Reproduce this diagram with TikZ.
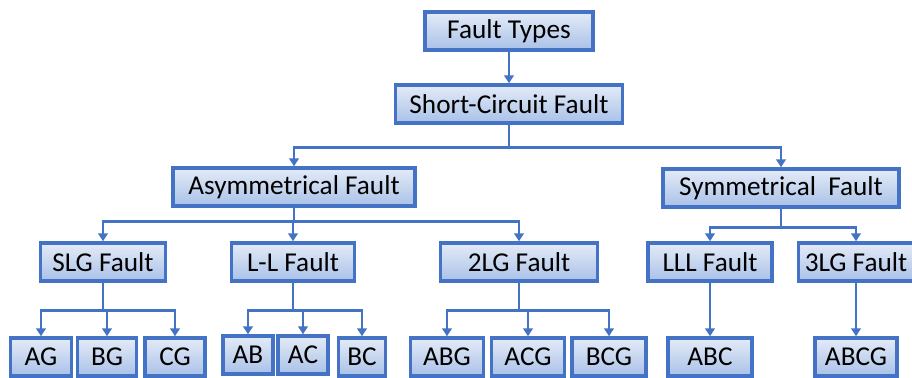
\documentclass[tikz,border=0pt]{standalone}
\usepackage{fontspec}
\setmainfont{Carlito}
\usetikzlibrary{arrows.meta,positioning}

\definecolor{faultline}{HTML}{4472C4}
\definecolor{faulttop}{HTML}{E4EBF7}
\definecolor{faultbot}{HTML}{A9C1E8}

\begin{document}
\begin{tikzpicture}[
  x=0.02cm, y=-0.02cm,
  font=\fontsize{15.5}{18}\selectfont,
  >={Triangle[width=5.5pt,length=4.5pt]},
  fault/.style={
    rectangle, draw=faultline, line width=2pt,
    top color=faulttop, bottom color=faultbot,
    minimum width=#1, minimum height=0.76cm,
    inner sep=1pt, text=black
  },
  arr/.style={->, line width=1.5pt, faultline},
]
\useasboundingbox (0,0) rectangle (912,378);

%% ── Top levels ──────────────────────────────────────────────────────
\node[fault=3.36cm] (ftypes) at (509,31)  {Fault Types};
\node[fault=4.54cm] (short)  at (509,104) {Short-Circuit Fault};
\draw[arr] (ftypes) -- (short);

%% ── Second level ────────────────────────────────────────────────────
\node[fault=4.84cm] (asym) at (294,187) {Asymmetrical Fault};
\node[fault=4.72cm] (sym)  at (781,188) {Symmetrical~ Fault};
\draw[arr] (short.south) -- ++(0,23) -| (asym.north);
\draw[arr] (short.south) -- ++(0,23) -| (sym.north);

%% ── Fault classes ───────────────────────────────────────────────────
\node[fault=2.5cm]  (slg) at (103,262) {SLG Fault};
\node[fault=2.46cm] (ll)  at (293,262) {L-L Fault};
\node[fault=3.14cm] (dlg) at (519,262) {2LG Fault};
\node[fault=2.48cm] (lll) at (710,262) {LLL Fault};
\node[fault=2.3cm]  (tlg) at (856,262) {3LG Fault};

\foreach \c in {slg, ll, dlg}
  \draw[arr] (asym.south) -- ++(0,14) -| (\c.north);
\foreach \c in {lll, tlg}
  \draw[arr] (sym.south) -- ++(0,19) -| (\c.north);

%% ── Phase combinations ──────────────────────────────────────────────
\node[fault=1.22cm] (ag)  at (41,357)  {AG};
\node[fault=1.18cm] (bg)  at (107,357) {BG};
\node[fault=1.2cm]  (cg)  at (175,357) {CG};
\node[fault=1.0cm]  (ab)  at (248,355) {AB};
\node[fault=1.0cm]  (ac)  at (303,355) {AC};
\node[fault=0.94cm] (bc)  at (362,357) {BC};
\node[fault=1.46cm] (abg) at (447,357) {ABG};
\node[fault=1.46cm] (acg) at (528,357) {ACG};
\node[fault=1.48cm] (bcg) at (609,357) {BCG};
\node[fault=1.68cm] (abc) at (710,357) {ABC};
\node[fault=1.64cm] (abcg)at (856,357) {ABCG};

\foreach \p/\c in {slg/ag, slg/bg, slg/cg, ll/ab, ll/ac, ll/bc,
                   dlg/abg, dlg/acg, dlg/bcg}
  \draw[arr] (\p.south) -- ++(0,28) -| (\c.north);
\draw[arr] (lll) -- (abc);
\draw[arr] (tlg) -- (abcg);

\end{tikzpicture}
\end{document}
